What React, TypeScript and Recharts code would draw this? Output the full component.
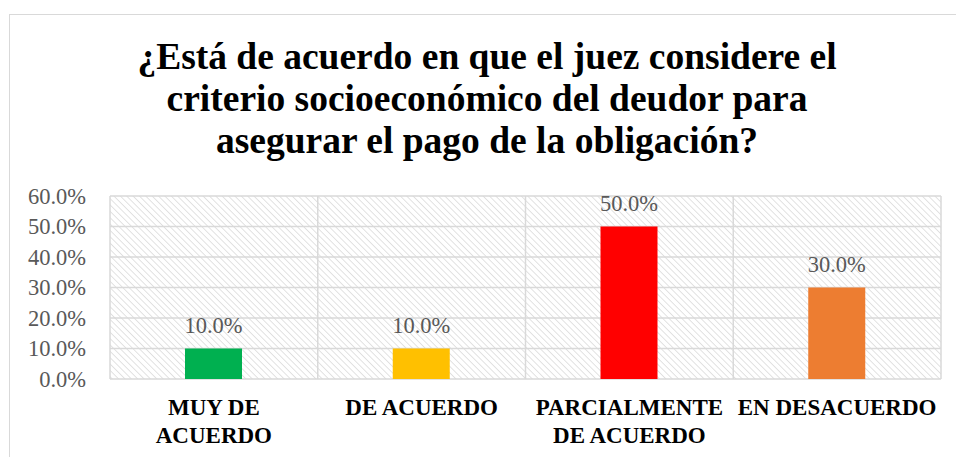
import { BarChart, Bar, XAxis, YAxis, CartesianGrid, Cell, LabelList } from 'recharts';

const categories = ['MUY DE ACUERDO', 'DE ACUERDO', 'PARCIALMENTE DE ACUERDO', 'EN DESACUERDO'];
const categoryLines = [['MUY DE', 'ACUERDO'], ['DE ACUERDO'], ['PARCIALMENTE', 'DE ACUERDO'], ['EN DESACUERDO']];
const values = [0.1, 0.1, 0.5, 0.3];
const barColors = ['#00b050', '#ffc000', '#ff0000', '#ed7d31'];
const yTicks = [0, 0.1, 0.2, 0.3, 0.4, 0.5, 0.6];
const titleLines = [
  '¿Está de acuerdo en que el juez considere el',
  'criterio socioeconómico del deudor para',
  'asegurar el pago de la obligación?',
];

const data = categories.map((name, i) => ({ name, value: values[i] }));

const FONT = '"Liberation Serif", "Times New Roman", serif';
const pct = (v: number) => `${(v * 100).toFixed(1)}%`;

function CategoryTick(props: any) {
  const { x, y, index } = props;
  const lines = categoryLines[index] ?? [];
  return (
    <g>
      {lines.map((l, i) => (
        <text key={i} x={x} y={y + 36 + i * 28} textAnchor="middle"
          fontFamily={FONT} fontSize={23} fontWeight="bold" fill="#000">
          {l}
        </text>
      ))}
    </g>
  );
}

export default function App() {
  return (
    <div style={{ position: 'relative', width: 956, height: 457, overflow: 'hidden', background: '#fff' }}>
      <style>{'body{margin:0}'}</style>
      <div style={{
        position: 'absolute', left: 9, top: 14, width: 956, height: 500,
        border: '1.5px solid #d9d9d9', boxSizing: 'border-box',
      }} />
      <div style={{
        position: 'absolute', left: 9, top: 36, width: 956, textAlign: 'center',
        fontFamily: FONT, fontWeight: 'bold', fontSize: 37.5, lineHeight: '42px', color: '#000',
      }}>
        {titleLines.map((t, i) => <div key={i} style={{ whiteSpace: 'nowrap' }}>{t}</div>)}
      </div>
      <div style={{ position: 'absolute', left: 0, top: 0 }}>
        <BarChart width={956} height={457} data={data}
          margin={{ top: 196, right: 15, left: 10, bottom: 0 }}>
          <defs>
            <pattern id="hatch" patternUnits="userSpaceOnUse" width="4.5" height="4.5"
              patternTransform="rotate(-45)">
              <line x1="0" y1="0" x2="0" y2="4.5" stroke="#cfcfcf" strokeWidth="1.2" />
            </pattern>
          </defs>
          <CartesianGrid
            fill="url(#hatch)"
            stroke="#d9d9d9"
            strokeWidth={1.5}
            verticalCoordinatesGenerator={({ offset }: any) =>
              categories.map((_, i) => offset.left + (i * offset.width) / categories.length)
                .concat(offset.left + offset.width)}
          />
          <XAxis dataKey="name" axisLine={false} tickLine={false} tickSize={0} tickMargin={0}
            height={78} interval={0} tick={<CategoryTick />} />
          <YAxis domain={[0, 0.6]} ticks={yTicks} tickFormatter={pct} axisLine={false}
            tickLine={false} tickSize={0} tickMargin={24} width={100} interval={0}
            tick={{ fontFamily: FONT, fontSize: 22.5, fill: '#595959' }} />
          <Bar dataKey="value" barSize={57} isAnimationActive={false}>
            {data.map((_, i) => <Cell key={i} fill={barColors[i]} />)}
            <LabelList dataKey="value" position="top" offset={16} formatter={(v: any) => pct(Number(v))}
              style={{ fontFamily: FONT, fontSize: 22.5, fill: '#595959' }} />
          </Bar>
        </BarChart>
      </div>
    </div>
  );
}
